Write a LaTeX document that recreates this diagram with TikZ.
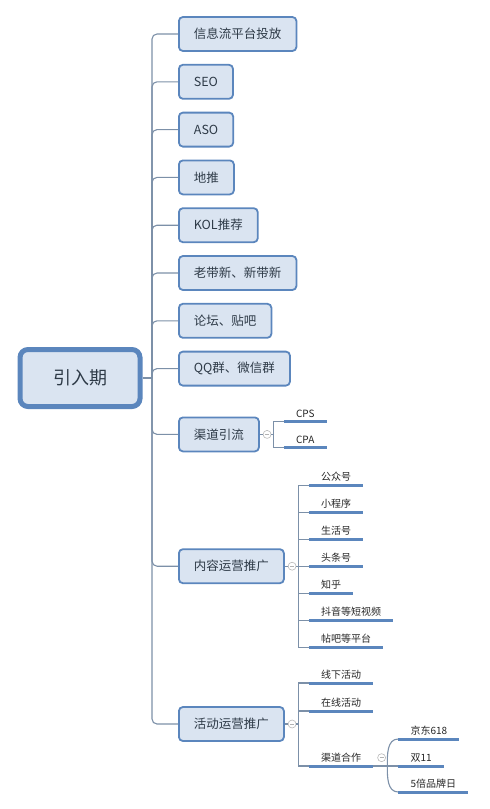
\documentclass[tikz,border=0pt]{standalone}
\usepackage{fontspec}
\setmainfont{Noto Sans CJK SC}
\usepackage{xcolor}
\usepackage{tikz}
\usetikzlibrary{positioning, calc}

\definecolor{boxfill}{HTML}{DAE4F1}
\definecolor{boxline}{HTML}{5B86BD}
\definecolor{wire}{HTML}{7C90A8}
\definecolor{ink}{HTML}{2E3A47}

\tikzset{
  core/.style={rectangle, draw=boxline, line width=5pt, fill=boxfill, rounded corners=8pt,
    minimum width=120pt, minimum height=57pt, text=ink, font=\fontsize{18}{20}\selectfont},
  topic/.style={rectangle, draw=boxline, line width=1.8pt, fill=boxfill, rounded corners=4pt,
    minimum height=34pt, inner xsep=15pt, text=ink, font=\fontsize{12.5}{14}\selectfont},
  leaf/.style={anchor=south west, inner xsep=12pt, inner ysep=3.5pt, text=black!85,
    font=\fontsize{10}{12}\selectfont},
  bar/.style={draw=boxline, line width=3pt},
  trunkline/.style={draw=wire, line width=1.1pt, rounded corners=5pt},
  subline/.style={draw=wire, line width=1.1pt},
  fold/.style={circle, draw=gray!55, line width=0.6pt, fill=white, inner sep=0pt, minimum size=8pt,
    path picture={\draw[gray!60, line width=0.6pt] ([xshift=-2pt]path picture bounding box.center) -- ([xshift=2pt]path picture bounding box.center);}}
}

\begin{document}
\begin{tikzpicture}[x=1pt, y=1pt]
\useasboundingbox (0,0) rectangle (490,-809);

\node[core] (root) at (80,-378) {引入期};
\coordinate[right=9.5pt of root] (trunk);

% first level
\node[topic, anchor=west] (feed) at (178,-34) {信息流平台投放};
\node[topic, below right=12pt and 0pt of feed.south west] (seo) {SEO};
\node[topic, below right=12pt and 0pt of seo.south west] (aso) {ASO};
\node[topic, below right=12pt and 0pt of aso.south west] (ground) {地推};
\node[topic, below right=12pt and 0pt of ground.south west] (kol) {KOL推荐};
\node[topic, below right=12pt and 0pt of kol.south west] (refer) {老带新、新带新};
\node[topic, below right=12pt and 0pt of refer.south west] (forum) {论坛、贴吧};
\node[topic, below right=12pt and 0pt of forum.south west] (qq) {QQ群、微信群};
\node[topic, below right=30pt and 0pt of qq.south west] (chan) {渠道引流};
\node[topic, below right=96pt and 0pt of chan.south west] (content) {内容运营推广};
\node[topic, below right=122pt and 0pt of content.south west] (event) {活动运营推广};

\draw[subline] (root) -- (trunk);
\foreach \n in {feed,seo,aso,ground,kol,refer,forum,qq,chan,content,event}
  \draw[trunkline] (trunk) |- (\n.west);

% channel
\node[fold, right=3pt of chan] (chanfold) {};
\coordinate[right=2.5pt of chanfold] (chanjoint);
\node[leaf] (cps) at ($(chanjoint)+(10pt,13pt)$) {CPS};
\node[leaf] (cpa) at ($(chanjoint)+(10pt,-13pt)$) {CPA};
\draw[subline] (chan) -- (chanfold);
\draw[subline] (chanfold) -- (chanjoint);
\foreach \n in {cps,cpa} {
  \draw[subline] (chanjoint) |- (\n.south west);
  \draw[bar] (\n.south west) -- (\n.south east);
}

% content
\node[fold, right=3pt of content] (mediafold) {};
\coordinate[right=2.5pt of mediafold] (mediajoint);
\foreach \t [count=\i] in {公众号,小程序,生活号,头条号,知乎,抖音等短视频,帖吧等平台}
  \node[leaf] (media\i) at ($(mediajoint)+(10pt,{(4-\i)*27pt})$) {\t};
\draw[subline] (content) -- (mediafold);
\draw[subline] (mediafold) -- (mediajoint);
\foreach \i in {1,...,7} {
  \draw[subline] (mediajoint) |- (media\i.south west);
  \draw[bar] (media\i.south west) -- (media\i.south east);
}

% events
\node[fold, right=3pt of event] (eventfold) {};
\coordinate[right=2.5pt of eventfold] (eventjoint);
\node[leaf] (offline) at ($(eventjoint)+(10pt,41pt)$) {线下活动};
\node[leaf] (online) at ($(eventjoint)+(10pt,13pt)$) {在线活动};
\node[leaf] (coop) at ($(eventjoint)+(10pt,-42pt)$) {渠道合作};
\draw[subline] (event) -- (eventfold);
\draw[subline] (eventfold) -- (eventjoint);
\foreach \n in {offline,online,coop} {
  \draw[subline] (eventjoint) |- (\n.south west);
  \draw[bar] (\n.south west) -- (\n.south east);
}

% partners
\node[fold, right=4pt of coop] (coopfold) {};
\coordinate (coopjoint) at ($(coop.south east)+(14pt,0)$);
\node[leaf] (jd) at ($(coopjoint)+(11pt,27pt)$) {京东618};
\node[leaf] (d11) at ($(coopjoint)+(11pt,0)$) {双11};
\node[leaf] (brand) at ($(coopjoint)+(11pt,-26pt)$) {5倍品牌日};
\draw[subline] (coop.south east) -- (coopjoint);
\draw[subline] (coopjoint) to[out=90, in=180] (jd.south west);
\draw[subline] (coopjoint) -- (d11.south west);
\draw[subline] (coopjoint) to[out=-90, in=180] (brand.south west);
\foreach \n in {jd,d11,brand}
  \draw[bar] (\n.south west) -- (\n.south east);
\end{tikzpicture}
\end{document}
